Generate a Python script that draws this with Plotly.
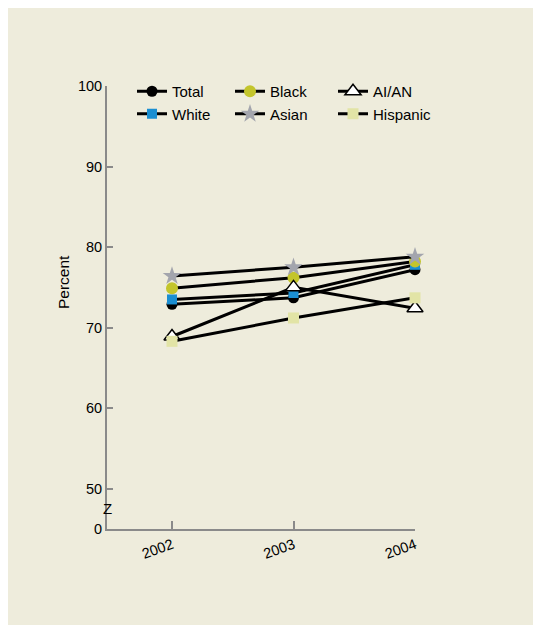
import plotly.graph_objects as go

years = [2002, 2003, 2004]
total = [72.9, 73.7, 77.2]
white = [73.5, 74.3, 77.8]
black = [74.9, 76.2, 78.2]
asian = [76.4, 77.5, 78.8]
aian = [68.9, 75.0, 72.4]
hispanic = [68.3, 71.2, 73.7]

y_ticks = [45, 50, 60, 70, 80, 90, 100]
y_ticktext = ["0", "50", "60", "70", "80", "90", "100"]

BG = "#eeecdc"
FONT = "Liberation Sans, Arial, sans-serif"

series = [
    ("Total", total, dict(symbol="circle", color="black", size=11), "legend"),
    ("White", white, dict(symbol="square", color="#1b8fd2", size=10), "legend"),
    ("Black", black, dict(symbol="circle", color="#c3c52c", size=12), "legend2"),
    ("Asian", asian, dict(symbol="star", color="#a3a5ad", size=14), "legend2"),
    ("AI/AN", aian, dict(symbol="triangle-up", color="white", size=14,
                         line=dict(color="black", width=1.5)), "legend3"),
    ("Hispanic", hispanic, dict(symbol="square", color="#e2e4a6", size=11), "legend3"),
]

fig = go.Figure()
for name, vals, marker, lg in series:
    fig.add_trace(go.Scatter(
        x=years, y=vals, name=name, mode="lines+markers",
        line=dict(color="black", width=3), marker=marker,
        cliponaxis=False, legend=lg,
    ))

# figure is offset by the 8px page margin
W, H = 533, 617
L, R, T, B = 99, 126, 78, 96
pw = W - L - R
ph = H - T - B

def px(xp):
    return (xp - 8 - L) / pw

def py(yp):
    return 1 - (yp - 8 - T) / ph

leg_common = dict(font=dict(family=FONT, size=15, color="black"),
                  bgcolor="rgba(0,0,0,0)", orientation="v",
                  xanchor="left", yanchor="top", tracegroupgap=0,
                  itemwidth=30)
fig.update_layout(
    legend=dict(x=px(132), y=py(75), **leg_common),
    legend2=dict(x=px(230), y=py(75), **leg_common),
    legend3=dict(x=px(333), y=py(75), **leg_common),
)

fig.add_annotation(xref="paper", yref="y", x=0, y=47.5, text="Z",
                   showarrow=False, xanchor="center", yanchor="middle",
                   font=dict(family=FONT, size=15, color="black"))

fig.add_annotation(xref="paper", yref="paper", x=px(63), y=py(282),
                   text="Percent", textangle=-90, showarrow=False,
                   xanchor="center", yanchor="middle",
                   font=dict(family=FONT, size=15.5, color="black"))

fig.update_layout(
    width=W, height=H,
    margin=dict(l=L, r=R, t=T, b=B),
    paper_bgcolor=BG, plot_bgcolor=BG,
    font=dict(family=FONT, size=14.5, color="black"),
    showlegend=True,
    xaxis=dict(range=[2001.465, 2004], tickvals=years,
               ticktext=[str(y) for y in years], tickangle=-20,
               showgrid=False, zeroline=False, showline=True,
               linecolor="#8a8a8a", linewidth=2, ticks="inside",
               ticklen=8, tickcolor="#8a8a8a", tickwidth=2,
               tickfont=dict(family=FONT, size=14.5)),
    yaxis=dict(range=[45, 100], tickvals=y_ticks, ticktext=y_ticktext,
               showgrid=False, zeroline=False, showline=True,
               linecolor="#8a8a8a", linewidth=2, ticks="inside",
               ticklen=6, tickcolor="#8a8a8a", tickwidth=1.5,
               tickfont=dict(family=FONT, size=14.5)),
)

fig.write_html("out.html")
